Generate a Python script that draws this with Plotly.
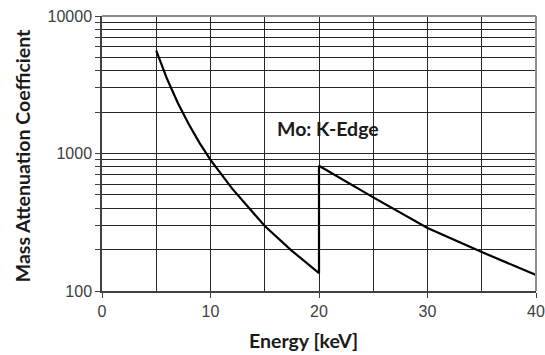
import math
import plotly.graph_objects as go

energy_kev = [5, 6, 7, 8, 9, 10, 12, 15, 17.5, 20, 20, 25, 30, 35, 40]
mass_atten = [5600, 3480, 2320, 1630, 1190, 900, 555, 297, 196, 135, 815, 480, 287, 192, 131]

x_ticks = [0, 10, 20, 30, 40]
y_ticks = [100, 1000, 10000]
y_minor = [200, 300, 400, 500, 600, 700, 800, 900,
           2000, 3000, 4000, 5000, 6000, 7000, 8000, 9000]

annotation_text = "Mo: K-Edge"
annotation_pos = (20.8, 1530)

GRID = "#262626"
TICKFONT = dict(family="Liberation Sans, Arial", size=16, color="#404040")
TITLEFONT = dict(family="Lato, Open Sans", size=19.5, color="#1a1a1a")

fig = go.Figure()
fig.add_trace(go.Scatter(x=energy_kev, y=mass_atten, mode="lines",
                         line=dict(color="black", width=2.2), showlegend=False))

fig.update_xaxes(range=[0, 40], tickvals=x_ticks, ticks="outside", ticklen=5,
                 tickcolor="#404040", showgrid=True, gridcolor=GRID, gridwidth=1,
                 showline=True, linecolor="#404040", linewidth=1.5, automargin=False,
                 minor=dict(dtick=5, showgrid=True, gridcolor=GRID, gridwidth=1, ticks=""),
                 tickfont=TICKFONT, zeroline=False)
fig.update_yaxes(type="log", range=[2, 4], tickvals=y_ticks, ticktext=["100", "1000", "10000"],
                 ticks="outside", ticklen=5, tickcolor="#404040", automargin=False,
                 showgrid=True, gridcolor=GRID, gridwidth=1,
                 showline=True, linecolor="#404040", linewidth=1.5,
                 minor=dict(tickvals=y_minor, showgrid=True, gridcolor=GRID, gridwidth=1,
                            ticks="outside", ticklen=5, tickcolor="#404040"),
                 tickfont=TICKFONT, zeroline=False)

fig.add_annotation(x=annotation_pos[0], y=math.log10(annotation_pos[1]),
                   text="<b>%s</b>" % annotation_text, showarrow=False,
                   font=dict(family="Lato, Open Sans", size=19.5, color="#1a1a1a"))
fig.add_annotation(xref="paper", yref="paper", x=0.465, y=0, yshift=-49, yanchor="middle",
                   text="<b>Energy [keV]</b>", showarrow=False, font=TITLEFONT)
fig.add_annotation(xref="paper", yref="paper", x=0, xshift=-80, y=0.49, xanchor="center",
                   textangle=-90, text="<b>Mass Attenuation Coefficient</b>",
                   showarrow=False, font=TITLEFONT)

fig.add_shape(type="line", xref="paper", yref="paper", x0=0, x1=1, y0=1, y1=1,
              line=dict(color="#8c8c8c", width=2))
fig.add_shape(type="line", xref="paper", yref="paper", x0=1, x1=1, y0=0, y1=1,
              line=dict(color="#8c8c8c", width=2))

fig.update_layout(width=545, height=355, margin=dict(l=102, r=9, t=16, b=64, autoexpand=False),
                  plot_bgcolor="white", paper_bgcolor="white")
fig.write_html("out.html", config={"displayModeBar": False},
               post_script="document.body.style.margin='0';")
